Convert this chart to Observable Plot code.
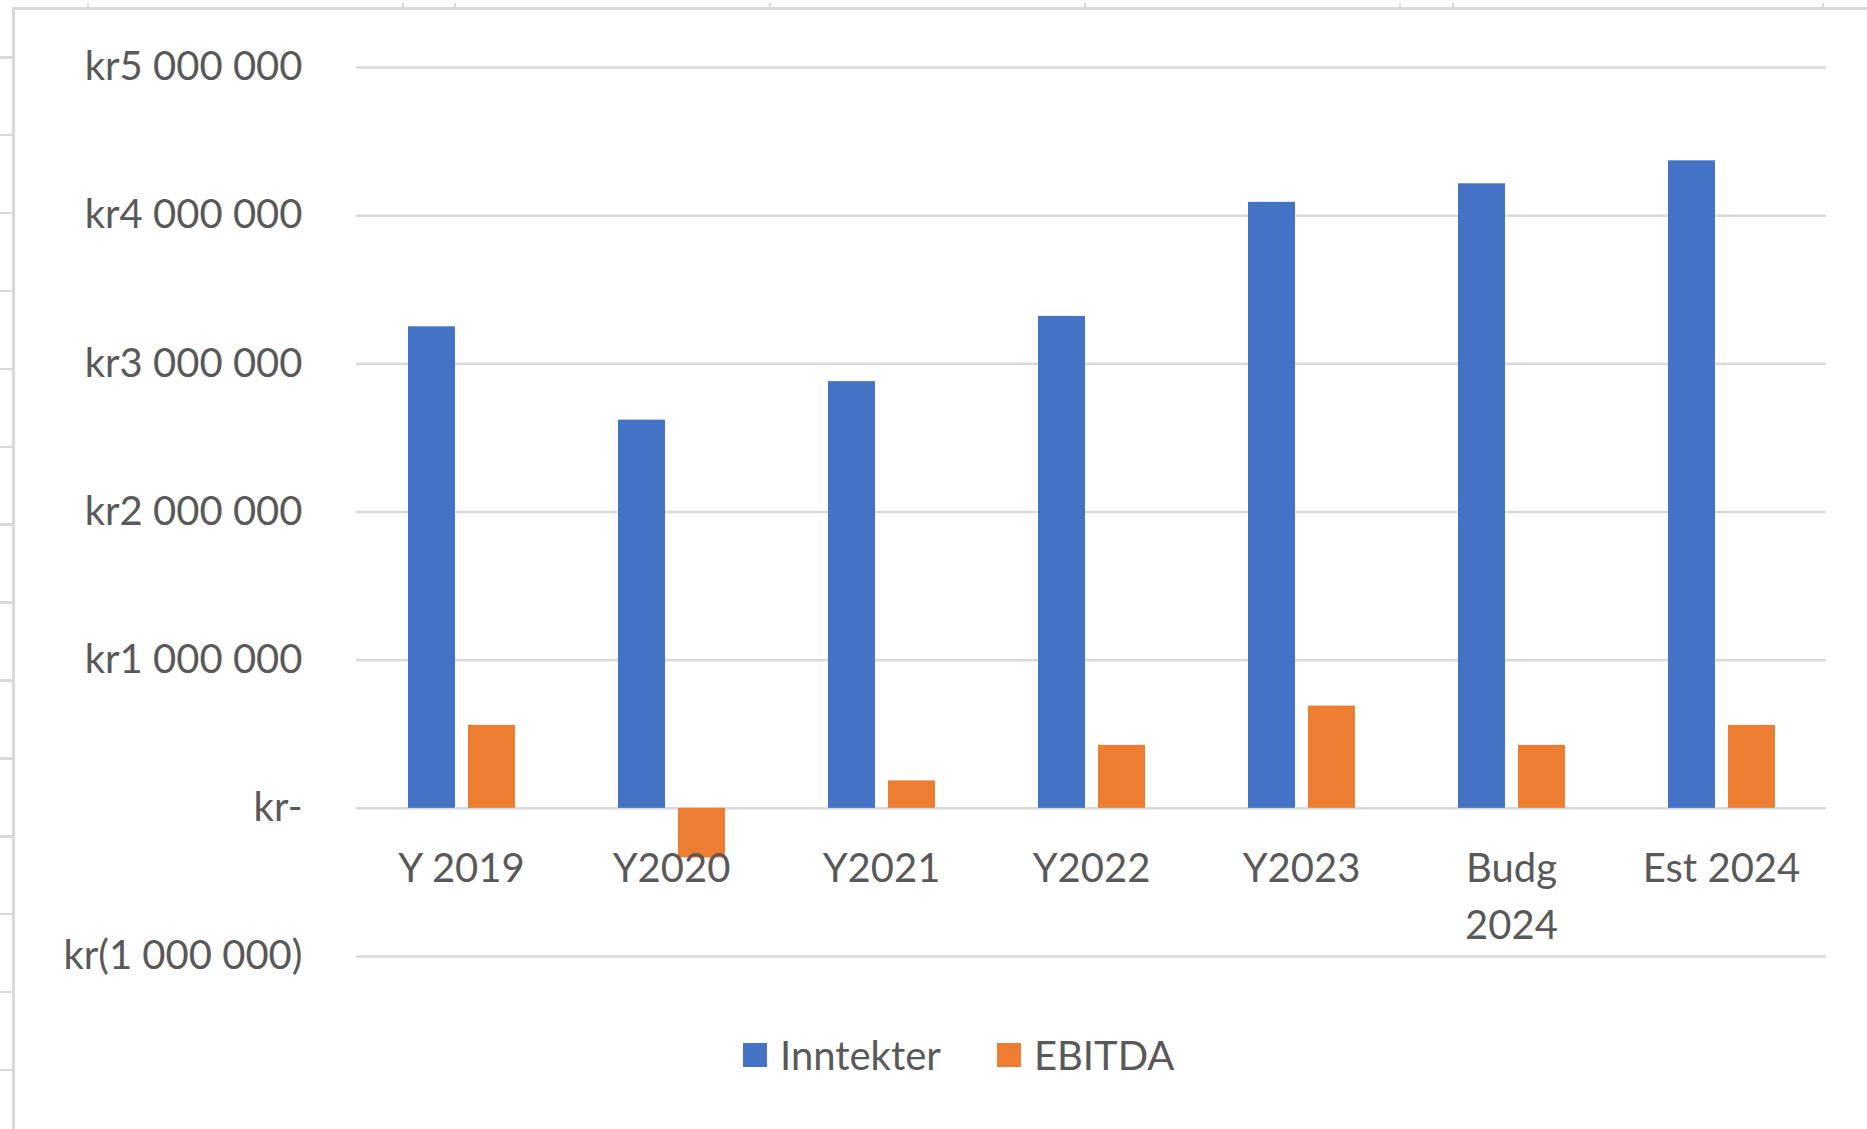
<!DOCTYPE html>
<html>
<head>
<meta charset="utf-8">
<script src="https://cdn.jsdelivr.net/npm/d3@7"></script>
<script src="https://cdn.jsdelivr.net/npm/@observablehq/plot@0.6"></script>
<style>
  html, body { margin: 0; padding: 0; background: #fff; overflow: hidden; }
  body { width: 1867px; height: 1129px; position: relative; font-family: Lato, sans-serif; }
  .sheet-left { position: absolute; left: 12px; top: 7px; width: 3px; height: 1200px; background: #d9d9d9; }
  .sheet-top { position: absolute; left: 12px; top: 7px; width: 1900px; height: 3px; background: #d9d9d9; }
  .rowticks { position: absolute; left: 0; top: 0; width: 12px; height: 1129px;
    background: repeating-linear-gradient(to bottom, transparent 0, transparent 56px, #d9d9d9 56px, #d9d9d9 58.5px, transparent 58.5px, transparent 77.9px);
    background-position: 0 0; }
  .coltick { position: absolute; top: 3px; width: 2px; height: 5px; background: #d9d9d9; }
  #chart { position: absolute; left: 0; top: 0; }
  #legend { position: absolute; left: 743px; top: 1031px; }
  #legend span { margin-right: 56px !important; }
  #legend span > svg { margin-right: 13px !important; }
</style>
</head>
<body>
<div class="rowticks"></div>
<div class="sheet-left"></div>
<div class="sheet-top"></div>
<div class="coltick" style="left:87px"></div>
<div class="coltick" style="left:402px"></div>
<div class="coltick" style="left:454px"></div>
<div class="coltick" style="left:769px"></div>
<div class="coltick" style="left:1084px"></div>
<div class="coltick" style="left:1399px"></div>
<div class="coltick" style="left:1452px"></div>
<div class="coltick" style="left:1822px"></div>
<div id="chart"></div>
<div id="legend"></div>
<script>
// ---- data ----
const categories = ["Y 2019", "Y2020", "Y2021", "Y2022", "Y2023", "Budg 2024", "Est 2024"];
const categoryLabels = ["Y 2019", "Y2020", "Y2021", "Y2022", "Y2023", "Budg\n2024", "Est 2024"];
const series = ["Inntekter", "EBITDA"];
const inntekter = [3250000, 2620000, 2880000, 3320000, 4090000, 4215000, 4370000];
const ebitda = [560000, -335000, 185000, 425000, 690000, 425000, 560000];
const yTicks = [-1000000, 0, 1000000, 2000000, 3000000, 4000000, 5000000];
const colors = ["#4472C4", "#ED7D31"];

const rows = categories.flatMap((c, i) => [
  {category: c, series: series[0], value: inntekter[i]},
  {category: c, series: series[1], value: ebitda[i]}
]);

const grp = d3.formatLocale({decimal: ",", thousands: "\u00a0", grouping: [3], currency: ["kr", ""]}).format(",.0f");
const krFormat = (v) => v === 0 ? "kr-" : v < 0 ? `kr(${grp(-v)})` : `kr${grp(v)}`;

const textColor = "#595959";

const chart = Plot.plot({
  width: 1867,
  height: 1010,
  marginLeft: 354,
  marginRight: 40,
  marginTop: 67,
  marginBottom: 54,
  style: {fontFamily: "Lato, sans-serif", fontSize: "40px", color: textColor, background: "none"},
  fx: {domain: categories, padding: 0, axis: null},
  x: {domain: series, paddingInner: 0.217, paddingOuter: 0.858, axis: null},
  y: {domain: [-1000000, 5000000], axis: null},
  color: {domain: series, range: colors},
  marks: [
    Plot.gridY(yTicks, {stroke: "#d9d9d9", strokeOpacity: 1, strokeWidth: 2.5}),
    Plot.axisY(yTicks, {tickFormat: krFormat, tickSize: 0, tickPadding: 54, label: null, fill: textColor, fontSize: 40}),
    Plot.barY(rows, {fx: "category", x: "series", y: "value", fill: "series"}),
    Plot.text(categories, {
      fx: (d) => d,
      y: () => 0,
      text: (d) => categoryLabels[categories.indexOf(d)],
      dy: 33,
      lineAnchor: "top",
      lineHeight: 1.425,
      fill: textColor,
      fontSize: 40
    })
  ]
});
document.getElementById("chart").appendChild(chart);

const legend = Plot.legend({
  color: {domain: series, range: colors},
  swatchSize: 24,
  style: {fontFamily: "Lato, sans-serif", fontSize: "40px", color: textColor, lineHeight: "48px"}
});
document.getElementById("legend").appendChild(legend);
</script>
</body>
</html>
